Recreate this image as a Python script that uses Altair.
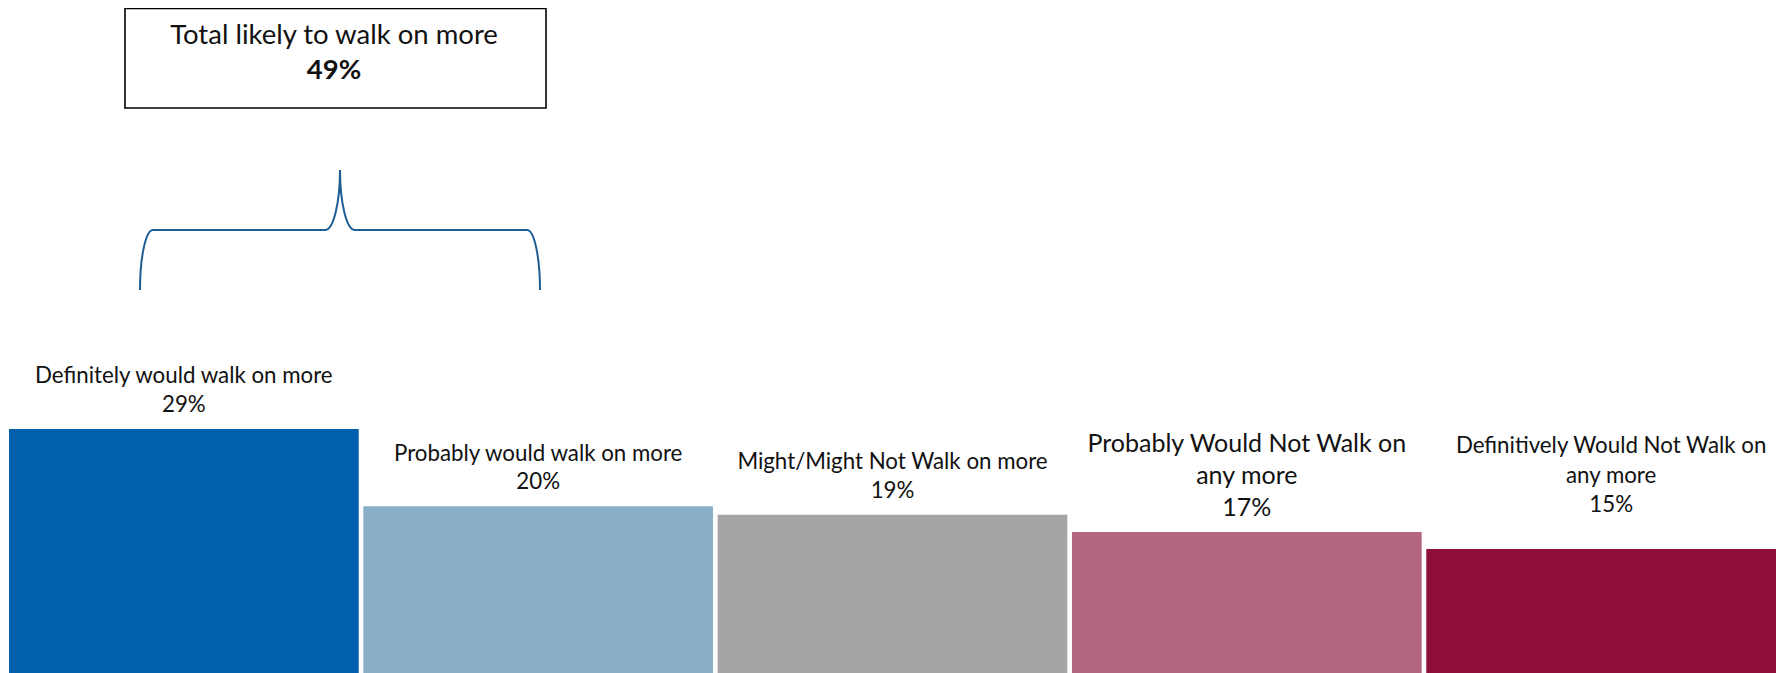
import altair as alt
import pandas as pd

# ---- data ----
categories = [
    "Definitely would walk on more",
    "Probably would walk on more",
    "Might/Might Not Walk on more",
    "Probably Would Not Walk on\nany more",
    "Definitively Would Not Walk on\nany more",
]
values = [29, 20, 19, 17, 15]
colors = ["#0060AD", "#8AAFC8", "#A5A5A5", "#B4657F", "#8E0E3B"]
total_title = "Total likely to walk on more"
total_value = "49%"

df = pd.DataFrame({"category": categories, "value": values})
df["label"] = df["category"] + "\n" + df["value"].astype(str) + "%"

W, H = 1769, 665
FONT = "Lato"

x_enc = alt.X("category:N", sort=categories, axis=None,
              scale=alt.Scale(range=[1, 1768], paddingInner=0.013, paddingOuter=0))
y_scale = alt.Scale(domain=[0.56, 78.07], nice=False, zero=False)

bars = alt.Chart(df).mark_bar(clip=True).encode(
    x=x_enc,
    y=alt.Y("value:Q", scale=y_scale, axis=None),
    y2=alt.datum(0),
    color=alt.Color("category:N", sort=categories,
                    scale=alt.Scale(domain=categories, range=colors), legend=None),
)

c4 = categories[3]
c5 = categories[4]


def label_layer(flt, size, lh, dy, dx=0):
    return alt.Chart(df).transform_filter(flt).mark_text(
        font=FONT, fontSize=size, lineBreak="\n", lineHeight=lh, baseline="bottom",
        align="center", dy=dy, dx=dx, color="#111111").encode(
        x=x_enc, y=alt.Y("value:Q", scale=y_scale, axis=None), text="label:N")


labels_main = label_layer((alt.datum.category != c4) & (alt.datum.category != c5), 22.3, 28.5, -40.5)
labels_b4 = label_layer(alt.datum.category == c4, 25, 32, -75)
labels_b5 = label_layer(alt.datum.category == c5, 22.3, 29.5, -91, dx=10)

one = alt.Data(values=[{"t1": total_title, "t2": total_value}])

box = alt.Chart(one).mark_rect(fill="white", stroke="black", strokeWidth=1.6).encode(
    x=alt.value(117), x2=alt.value(538), y=alt.value(0.5), y2=alt.value(100))

title1 = alt.Chart(one).mark_text(font=FONT, fontSize=27.5, baseline="middle", align="center",
                                  color="#111111").encode(
    x=alt.value(326), y=alt.value(28), text="t1:N")
title2 = alt.Chart(one).mark_text(font=FONT, fontSize=27.5, fontWeight="bold", baseline="middle",
                                  align="center", color="#111111").encode(
    x=alt.value(326), y=alt.value(63), text="t2:N")

brace_path = ("M-200,60 C-200,26.9 -194.2,0 -187,0 L-15,0 C-6.7,0 0,-26.9 0,-60 "
              "C0,-26.9 6.7,0 15,0 L187,0 C194.2,0 200,26.9 200,60")
brace = alt.Chart(one).mark_point(shape=brace_path, size=4, filled=False, stroke="#1C5E94",
                                  strokeWidth=2, opacity=1).encode(
    x=alt.value(332), y=alt.value(222))

chart = alt.layer(bars, labels_main, labels_b4, labels_b5, box, title1, title2, brace).properties(
    width=W, height=H,
    autosize=alt.AutoSizeParams(type="none"),
    padding=0,
).configure_view(stroke=None)

chart.save("out.html", embed_options={"renderer": "svg", "actions": False})
